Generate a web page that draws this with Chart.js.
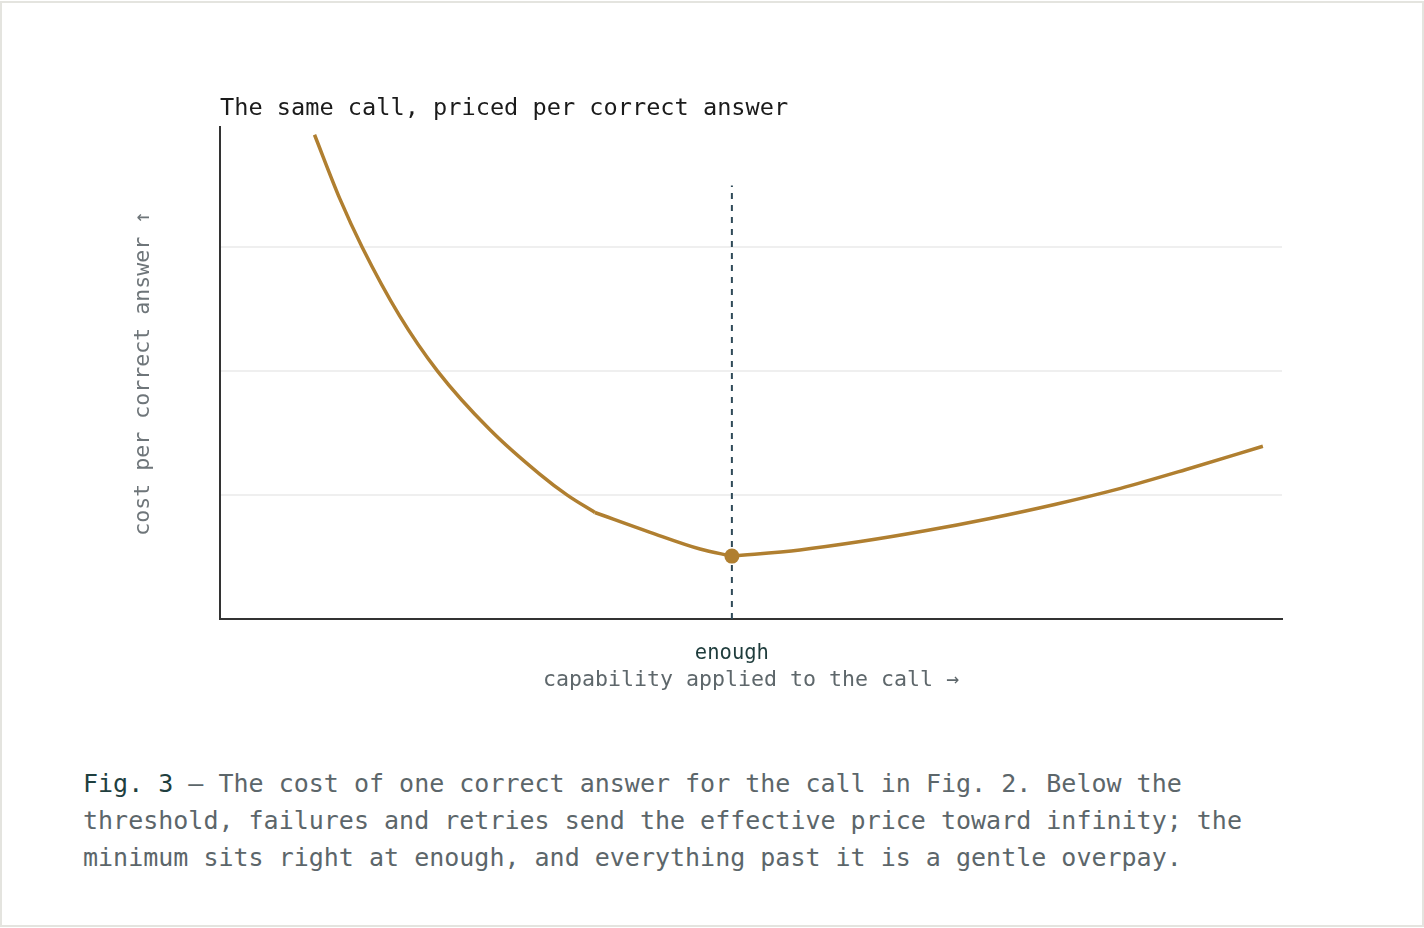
<!DOCTYPE html>
<html>
<head>
<meta charset="utf-8">
<script src="https://cdn.jsdelivr.net/npm/chart.js@4.4.1/dist/chart.umd.min.js"></script>
<style>
  html, body { margin: 0; padding: 0; background: #ffffff; }
  body { width: 1424px; height: 928px; position: relative; overflow: hidden; }
  #frame { position: absolute; left: 0px; top: 1px; width: 1420px; height: 922px; border: 2px solid #e4e4df; }
  #wrap { position: absolute; left: 0; top: 0; width: 1424px; height: 720px; }
  #caption { position: absolute; left: 83px; top: 765px; font-family: "DejaVu Sans Mono", monospace; font-size: 25px; line-height: 37px; color: #5c666a; white-space: nowrap; }
  #caption b { font-weight: normal; color: #1f3f3f; }
</style>
</head>
<body>
<div id="frame"></div>
<div id="wrap"><canvas id="c" width="1424" height="720"></canvas></div>
<div id="caption"><b>Fig. 3</b> — The cost of one correct answer for the call in Fig. 2. Below the<br>threshold, failures and retries send the effective price toward infinity; the<br>minimum sits right at enough, and everything past it is a gentle overpay.</div>
<script>
// ---- data ----
const chartTitle = "The same call, priced per correct answer";
const xAxisTitle = "capability applied to the call →";
const yAxisTitle = "cost per correct answer ↑";
const enoughLabel = "enough";
const enoughCapability = 48.2;
const enoughLineTop = 3.5;
const capability     = [8.9, 11.3, 13.4, 16.9, 20.5, 25.4, 30.1, 32.7, 35.3, 40.5, 45.2, 48.2, 54.6, 60.3, 66.4, 72.5, 78.6, 84.8, 90.9, 98.2];
const costPerCorrect = [3.91, 3.39, 3.00, 2.45, 2.00, 1.53, 1.17, 1.00, 0.86, 0.70, 0.565, 0.508, 0.558, 0.625, 0.712, 0.812, 0.925, 1.055, 1.205, 1.395];
// indices where the curve's slope visibly breaks (knee of the retry tail, and the minimum at "enough")
const breakIndices = [8, 11];
const yGridValues = [0, 1, 2, 3];
const xMin = 0, xMax = 100, yMin = 0, yMax = 3.97;

const curvePoints = capability.map((x, i) => ({ x: x, y: costPerCorrect[i] }));
const minIndex = costPerCorrect.indexOf(Math.min(...costPerCorrect));
const enoughLine = [{ x: enoughCapability, y: yMin }, { x: enoughCapability, y: enoughLineTop }];

const MONO = '"DejaVu Sans Mono", monospace';
const GOLD = '#b07f30';

// split the single series into pieces at the break points
const cuts = [0, ...breakIndices, curvePoints.length - 1];
const curveDatasets = [];
for (let k = 0; k < cuts.length - 1; k++) {
  const from = cuts[k], to = cuts[k + 1];
  curveDatasets.push({
    data: curvePoints.slice(from, to + 1),
    borderColor: GOLD,
    backgroundColor: GOLD,
    borderWidth: 3.5,
    borderCapStyle: 'butt',
    cubicInterpolationMode: 'monotone',
    pointRadius: ctx => (from + ctx.dataIndex === minIndex && k === 1) ? 7.5 : 0,
    pointHoverRadius: 0,
    pointBorderWidth: 0,
    pointBackgroundColor: GOLD,
    order: 1
  });
}

new Chart(document.getElementById('c'), {
  type: 'line',
  data: {
    datasets: [
      {
        data: enoughLine,
        borderColor: '#2f4a58',
        borderWidth: 2,
        borderDash: [6, 6],
        pointRadius: 0,
        order: 2
      },
      ...curveDatasets
    ]
  },
  options: {
    responsive: false,
    animation: false,
    events: [],
    layout: { padding: { left: 0, right: 142, top: 95, bottom: 20 } },
    plugins: {
      legend: { display: false },
      tooltip: { enabled: false },
      title: {
        display: true,
        text: chartTitle,
        align: 'start',
        fullSize: false,
        color: '#1b1b1b',
        font: { family: MONO, size: 23.6, weight: 'normal' },
        padding: { top: 0, bottom: 4 }
      }
    },
    scales: {
      x: {
        type: 'linear',
        min: xMin,
        max: xMax,
        afterBuildTicks: s => { s.ticks = [{ value: enoughCapability }]; },
        afterFit: s => { s.height = 81; },
        grid: { display: false, drawTicks: false },
        border: { display: true, color: '#333333', width: 2 },
        ticks: {
          padding: 22,
          color: '#1e3c3c',
          font: { family: MONO, size: 20.5 },
          callback: () => enoughLabel,
          maxRotation: 0,
          autoSkip: false
        },
        title: {
          display: true,
          text: xAxisTitle,
          color: '#5e676b',
          font: { family: MONO, size: 21.6 },
          padding: { top: 0, bottom: 7 }
        }
      },
      y: {
        type: 'linear',
        min: yMin,
        max: yMax,
        afterBuildTicks: s => { s.ticks = yGridValues.map(v => ({ value: v })); },
        afterFit: s => { s.width = 220; },
        grid: {
          drawTicks: false,
          color: ctx => ctx.tick && ctx.tick.value === 0 ? 'rgba(0,0,0,0)' : '#efefef',
          lineWidth: 2
        },
        border: { display: true, color: '#333333', width: 2 },
        ticks: { display: false },
        title: {
          display: true,
          text: yAxisTitle,
          color: '#6e7579',
          font: { family: MONO, size: 21.6 },
          padding: { top: 130, bottom: 0 }
        }
      }
    }
  }
});
</script>
</body>
</html>
